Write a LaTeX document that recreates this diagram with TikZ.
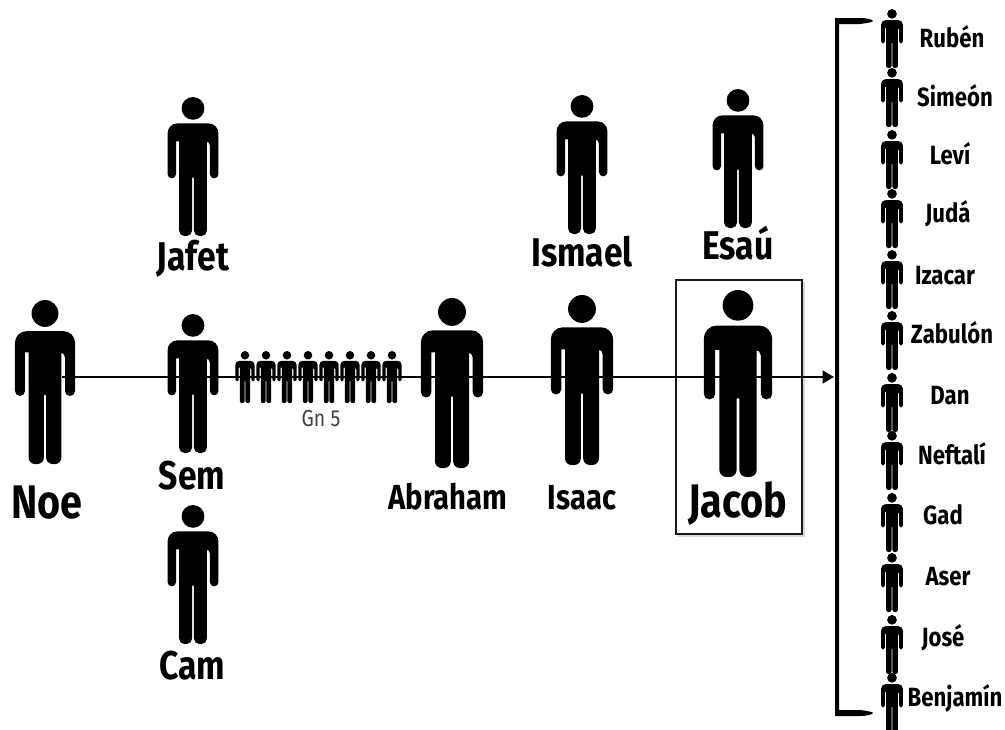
\documentclass[tikz,border=0pt]{standalone}
\usepackage{fontspec}
\setmainfont[FakeStretch=0.84]{Fira Sans}
\usetikzlibrary{arrows.meta}

% one stick figure: x of the centre, y of the head top, height
\newcommand{\person}[3]{
    \begin{scope}[shift={(#1,#2)},scale=#3/100]
        \fill (0,8.2) circle (8.2);
        \fill[rounded corners=#3*0.02pt] (0,19) -- (18.3,19)
            [rounded corners=#3*0.0085pt] -- (18.3,58.5) -- (12.2,58.5) -- (12.2,32)
            [sharp corners] -- (10,32) -- (10,80)
            [rounded corners=#3*0.011pt] -- (10,100) -- (0.7,100)
            [sharp corners] -- (0.7,58) -- (-0.7,58) -- (-0.7,80)
            [rounded corners=#3*0.011pt] -- (-0.7,100) -- (-10,100)
            [sharp corners] -- (-10,32) -- (-12.2,32) -- (-12.2,40)
            [rounded corners=#3*0.0085pt] -- (-12.2,58.5) -- (-18.3,58.5)
            [rounded corners=#3*0.02pt] -- (-18.3,19) -- cycle;
    \end{scope}
}

\tikzset{
    who/.style={anchor=base,inner sep=0pt,text=black},
    hugename/.style={who,font=\fontsize{13.4}{15}\selectfont\bfseries},
    midname/.style={who,font=\fontsize{11.4}{13}\selectfont\bfseries},
    lowname/.style={who,font=\fontsize{9.9}{12}\selectfont\bfseries},
    smallname/.style={who,font=\fontsize{7.5}{9}\selectfont\bfseries},
    note/.style={who,font=\fontsize{6.6}{8}\selectfont,text=black!75},
    frame/.style={draw=black!90,line width=0.85pt,fill=white},
}

\begin{document}
\begin{tikzpicture}[x=0.01cm,y=-0.01cm]
    \useasboundingbox (0,0) rectangle (1005,730);

    % Box around Jacob, with its faint shadow
    \fill[black!15] (678,282) rectangle (805,537);
    \draw[frame] (676,280) rectangle (802,534);

    % Main line
    \person{45}{300}{164}
    \person{193}{97}{139}
    \person{193}{314}{139}
    \person{193}{505}{139}
    \person{452}{298}{170}
    \person{582}{295}{170}
    \person{582}{95}{139}
    \person{738}{89}{139}
    \person{738}{290}{187}

    % The generations of Gn 5
    \foreach \x in {245,266,287,308,329,350,371,392}
        \person{\x}{351}{52};

    % The twelve sons
    \foreach \top in {9,68,130,189,250,311,373,431,493,553,615,673}
        \person{892}{\top}{59};

    % Arrow
    \coordinate (linestart) at (62,377);
    \coordinate (lineend) at (834,377);
    \draw[line width=0.57pt,-{Triangle[length=3.2pt,width=3.6pt]}] (linestart) -- (lineend);

    % Bracket
    \fill (835,18) -- (860,18) .. controls (868,18) and (873,20) .. (873,21)
        .. controls (873,22) and (868,23) .. (860,24) -- (839,24) -- (839,710)
        -- (860,710) .. controls (868,711) and (873,712) .. (873,713)
        .. controls (873,714) and (868,716) .. (860,716) -- (835,716) -- cycle;

    % Names
    \node[hugename] (noe) at (47,518) {Noe};
    \node[midname] (jafet) at (193,270) {Jafet};
    \node[midname] (sem) at (192,489) {Sem};
    \node[midname] (cam) at (192,679) {Cam};
    \node[note] (gn) at (321,426) {Gn 5};
    \node[lowname] (abraham) at (448,509) {Abraham};
    \node[lowname] (isaac) at (582,509) {Isaac};
    \node[midname] (ismael) at (582,266) {Ismael};
    \node[midname] (esau) at (738,259) {Esaú};
    \node[hugename] (jacob) at (738,517) {Jacob};

    \node[smallname] (ruben) at (952,47) {Rubén};
    \node[smallname] (simeon) at (955,106) {Simeón};
    \node[smallname] (levi) at (950,164) {Leví};
    \node[smallname] (juda) at (948,222) {Judá};
    \node[smallname] (izacar) at (945,284) {Izacar};
    \node[smallname] (zabulon) at (952,343) {Zabulón};
    \node[smallname] (dan) at (950,404) {Dan};
    \node[smallname] (neftali) at (952,464) {Neftalí};
    \node[smallname] (gad) at (943,524) {Gad};
    \node[smallname] (aser) at (948,585) {Aser};
    \node[smallname] (jose) at (943,646) {José};
    \node[smallname] (benjamin) at (955,706) {Benjamín};
\end{tikzpicture}
\end{document}
